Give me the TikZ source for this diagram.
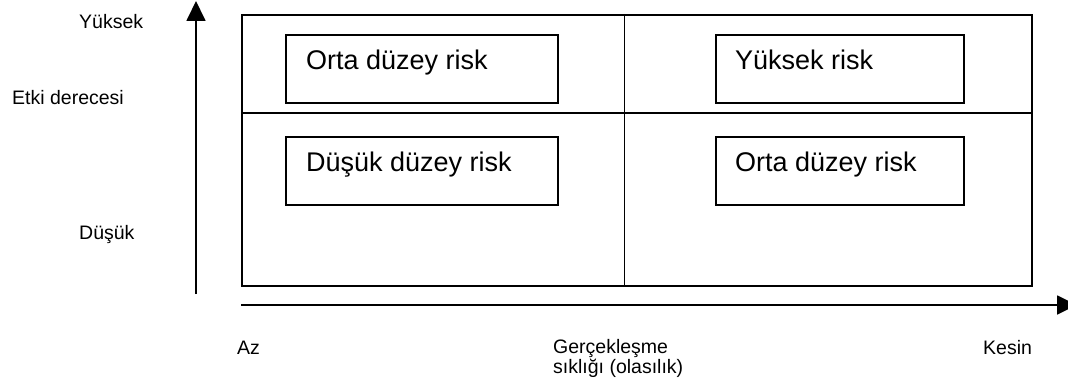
\documentclass[tikz,border=0pt]{standalone}
\usepackage{fontspec}
\setmainfont{Liberation Sans}
\usetikzlibrary{arrows.meta}
\begin{document}
\begin{tikzpicture}[x=1pt,y=-1pt,
  frame/.style={line width=1.6pt,draw=black},
  riskbox/.style={draw=black,line width=1.6pt,rectangle,inner sep=0pt,
    minimum width=272pt,minimum height=68pt,anchor=north west},
  risktext/.style={anchor=base west,inner sep=0pt,font=\fontsize{27}{32}\selectfont},
  axislabel/.style={anchor=base west,inner sep=0pt,font=\fontsize{19.5}{21.5}\selectfont},
  axis/.style={line width=1.8pt,-{Triangle[length=20pt,width=19pt]}}]
  \clip (0,0) rectangle (1068,390);
  \fill[white] (0,0) rectangle (1068,390);

  % matrix frame
  \node[frame,rectangle,inner sep=0pt,anchor=north west,
        minimum width=790pt,minimum height=271pt] (grid) at (241,14) {};
  \draw[frame] (624.5,14) -- (624.5,285);
  \draw[frame] (241,113) -- (1031,113);

  % risk boxes
  \node[riskbox] (tl) at (285,34) {};
  \node[riskbox] (bl) at (285,136) {};
  \node[riskbox,minimum width=248pt] (tr) at (715,34) {};
  \node[riskbox,minimum width=248pt] (br) at (715,136) {};
  \node[risktext] (tlt) at ([shift={(21,36)}]tl.north west) {Orta düzey risk};
  \node[risktext] (blt) at ([shift={(21,36)}]bl.north west) {Düşük düzey risk};
  \node[risktext] (trt) at ([shift={(20,36)}]tr.north west) {Yüksek risk};
  \node[risktext] (brt) at ([shift={(20,36)}]br.north west) {Orta düzey risk};

  % axes
  \coordinate (vstart) at (196,294);
  \coordinate (vend) at (196,1);
  \coordinate (hstart) at (241,305);
  \coordinate (hend) at (1077,305);
  \draw[axis] (vstart) -- (vend);
  \draw[axis] (hstart) -- (hend);

  % axis labels
  \node[axislabel] (yhigh) at (79,29) {Yüksek};
  \node[axislabel] (ytitle) at (12,105) {Etki derecesi};
  \node[axislabel] (ylow) at (79,240) {Düşük};
  \node[axislabel] (xlow) at (237,354) {Az};
  \node[axislabel,align=left,anchor=north west] (xtitle) at (553,339)
    {Gerçekleşme\\[-1pt]sıklığı (olasılık)};
  \node[axislabel] (xhigh) at (983,354) {Kesin};
\end{tikzpicture}
\end{document}
